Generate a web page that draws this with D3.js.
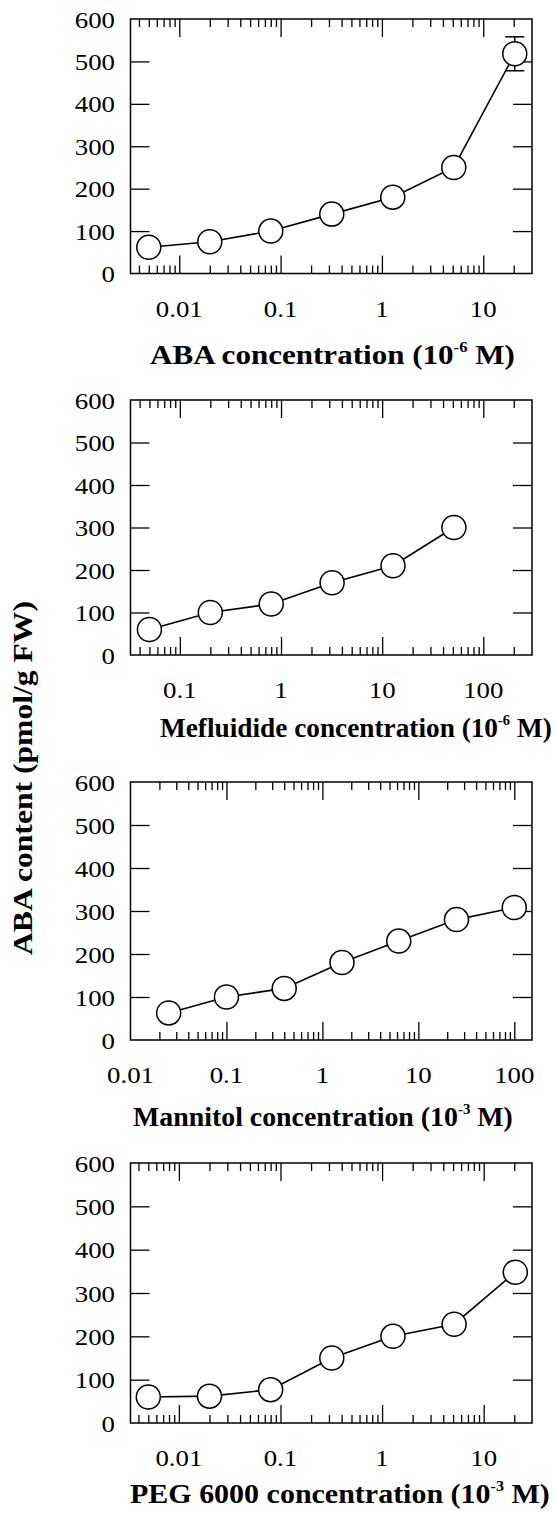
<!DOCTYPE html>
<html lang="en">
  <head>
    <meta charset="UTF-8" />
    <title>ABA content vs concentration</title>
    <script src="https://d3js.org/d3.v7.min.js"></script>
    <style>
      body {
        margin: 0;
        background: #fff;
      }
    </style>
  </head>
  <body>
    <div id="chart"></div>

    <script>
      // data
      const abaConc = [0.005, 0.02, 0.08, 0.32, 1.28, 5.12, 20.48];
      const abaContent = [62, 75, 100, 140, 180, 250, 518];
      const abaErr = [0, 0, 0, 0, 0, 0, 40];

      const mefConc = [0.05, 0.2, 0.8, 3.2, 12.8, 51.2];
      const mefContent = [60, 100, 120, 170, 210, 300];
      const mefErr = [0, 0, 0, 0, 0, 0];

      const manConc = [0.025, 0.1, 0.4, 1.6, 6.25, 25, 100];
      const manContent = [63, 100, 120, 180, 230, 280, 308];
      const manErr = [0, 0, 0, 0, 0, 0, 0];

      const pegConc = [0.005, 0.02, 0.08, 0.32, 1.28, 5.12, 20.48];
      const pegContent = [60, 62, 77, 150, 200, 228, 348];
      const pegErr = [0, 0, 0, 0, 0, 0, 0];

      const yTicks = [0, 100, 200, 300, 400, 500, 600];
      const abaTickLabels = ["0.01", "0.1", "1", "10"];
      const mefTickLabels = ["0.1", "1", "10", "100"];
      const manTickLabels = ["0.01", "0.1", "1", "10", "100"];
      const pegTickLabels = ["0.01", "0.1", "1", "10"];

      const yLabel = "ABA content (pmol/g FW)";

      const width = 555;
      const height = 1517;
      const stretch = 1.12;
      const serif = "'Liberation Serif', 'Times New Roman', Times, 'DejaVu Serif', serif";

      // titleSpan: left / right edge of the printed title
      const panels = [
        {
          conc: abaConc, content: abaContent, err: abaErr,
          labels: abaTickLabels, domain: [0.0033, 30.3],
          top: 19, bottom: 273.5,
          title: ["ABA concentration (10", "-6", " M)"], titleSpan: [150, 515], titleY: 364,
        },
        {
          conc: mefConc, content: mefContent, err: mefErr,
          labels: mefTickLabels, domain: [0.0325, 303],
          top: 400, bottom: 655,
          title: ["Mefluidide concentration (10", "-6", " M)"], titleSpan: [160, 552], titleY: 737,
        },
        {
          conc: manConc, content: manContent, err: manErr,
          labels: manTickLabels, domain: [0.01, 153],
          top: 782, bottom: 1040,
          title: ["Mannitol concentration (10", "-3", " M)"], titleSpan: [133, 513], titleY: 1126,
        },
        {
          conc: pegConc, content: pegContent, err: pegErr,
          labels: pegTickLabels, domain: [0.00334, 29.9],
          top: 1163, bottom: 1423,
          title: ["PEG 6000 concentration (10", "-3", " M)"], titleSpan: [130, 550], titleY: 1503,
        },
      ];

      const left = 130.5;
      const right = 532;

      const svg = d3
        .select("#chart")
        .append("svg")
        .attr("width", width)
        .attr("height", height)
        .attr("font-family", serif);

      // text with a slight horizontal stretch, like the printed figure
      function stretchedText(g, x, y, str, size, anchor, weight) {
        return g
          .append("text")
          .attr("transform", `translate(${x},${y}) scale(${stretch},1)`)
          .attr("text-anchor", anchor)
          .attr("font-family", serif)
          .attr("font-size", size)
          .attr("font-weight", weight || "normal")
          .text(str);
      }

      panels.forEach((p) => {
        const x = d3.scaleLog().domain(p.domain).range([left, right]);
        const y = d3.scaleLinear().domain([0, 600]).range([p.bottom, p.top]);
        const g = svg.append("g");

        const isMajor = (v) =>
          Math.abs(Math.log10(v) - Math.round(Math.log10(v))) < 1e-6;
        const allTicks = x.ticks().filter((v) => x(v) > left + 1 && x(v) < right - 1);
        const majors = allTicks.filter(isMajor);
        const minors = allTicks.filter((v) => !isMajor(v));

        // ticks, all pointing inward
        const addAxis = (axis, transform) =>
          g
            .append("g")
            .attr("transform", transform)
            .call(axis)
            .call((a) => a.select(".domain").remove())
            .call((a) => a.selectAll("line").attr("stroke", "#000").attr("stroke-width", 1.3));

        addAxis(d3.axisBottom(x).tickValues(majors).tickSizeInner(-18).tickSizeOuter(0).tickFormat(""), `translate(0,${p.bottom})`);
        addAxis(d3.axisBottom(x).tickValues(minors).tickSizeInner(-8).tickSizeOuter(0).tickFormat(""), `translate(0,${p.bottom})`);
        addAxis(d3.axisTop(x).tickValues(majors).tickSizeInner(-18).tickSizeOuter(0).tickFormat(""), `translate(0,${p.top})`);
        addAxis(d3.axisTop(x).tickValues(minors).tickSizeInner(-8).tickSizeOuter(0).tickFormat(""), `translate(0,${p.top})`);
        const innerY = yTicks.slice(1, -1);
        addAxis(d3.axisLeft(y).tickValues(innerY).tickSizeInner(-19).tickSizeOuter(0).tickFormat(""), `translate(${left},0)`);
        addAxis(d3.axisRight(y).tickValues(innerY).tickSizeInner(-19).tickSizeOuter(0).tickFormat(""), `translate(${right},0)`);

        // frame
        g.append("rect")
          .attr("x", left)
          .attr("y", p.top)
          .attr("width", right - left)
          .attr("height", p.bottom - p.top)
          .attr("fill", "none")
          .attr("stroke", "#000")
          .attr("stroke-width", 1.5);

        // y tick labels
        yTicks.forEach((t) => {
          stretchedText(g, 115, y(t) + 8.5, String(t), 24, "end");
        });

        // x tick labels
        p.labels.forEach((lab) => {
          stretchedText(g, x(+lab), p.bottom + 43, lab, 24, "middle");
        });

        // x axis title with superscript, fitted to the printed width
        const title = g
          .append("text")
          .attr("text-anchor", "start")
          .attr("font-family", serif)
          .attr("font-size", 28)
          .attr("font-weight", "bold");
        title.append("tspan").text(p.title[0]);
        title.append("tspan").attr("font-size", 15).attr("dy", -12).text(p.title[1]);
        title.append("tspan").attr("dy", 12).text(p.title[2]);
        const tw = title.node().getBBox().width;
        const sx = (p.titleSpan[1] - p.titleSpan[0]) / tw;
        title.attr("transform", `translate(${p.titleSpan[0]},${p.titleY}) scale(${sx},1)`);

        const pts = p.conc.map((c, i) => ({ c, v: p.content[i], e: p.err[i] }));

        g.append("path")
          .datum(pts)
          .attr("fill", "none")
          .attr("stroke", "#000")
          .attr("stroke-width", 1.6)
          .attr("d", d3.line().x((d) => x(d.c)).y((d) => y(d.v)));

        // error bars
        const eb = g
          .selectAll(".err")
          .data(pts.filter((d) => d.e > 0))
          .join("g")
          .attr("stroke", "#000")
          .attr("stroke-width", 1.5);
        eb.append("line")
          .attr("x1", (d) => x(d.c))
          .attr("x2", (d) => x(d.c))
          .attr("y1", (d) => y(d.v - d.e))
          .attr("y2", (d) => y(d.v + d.e));
        eb.append("line")
          .attr("x1", (d) => x(d.c) - 9.5)
          .attr("x2", (d) => x(d.c) + 9.5)
          .attr("y1", (d) => y(d.v + d.e))
          .attr("y2", (d) => y(d.v + d.e));
        eb.append("line")
          .attr("x1", (d) => x(d.c) - 9.5)
          .attr("x2", (d) => x(d.c) + 9.5)
          .attr("y1", (d) => y(d.v - d.e))
          .attr("y2", (d) => y(d.v - d.e));

        g.selectAll("circle")
          .data(pts)
          .join("circle")
          .attr("cx", (d) => x(d.c))
          .attr("cy", (d) => y(d.v))
          .attr("r", 12)
          .attr("fill", "#fff")
          .attr("stroke", "#000")
          .attr("stroke-width", 1.5);
      });

      // shared y axis title
      svg
        .append("text")
        .attr("transform", `translate(32,778) rotate(-90) scale(1.13,1)`)
        .attr("text-anchor", "middle")
        .attr("font-family", serif)
        .attr("font-size", 28)
        .attr("font-weight", "bold")
        .text(yLabel);
    </script>
  </body>
</html>
